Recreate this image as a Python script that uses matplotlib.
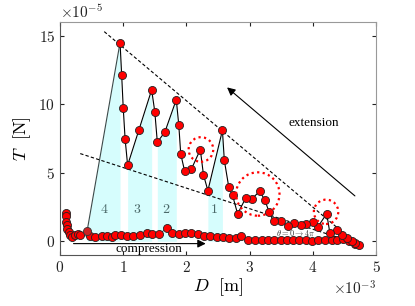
import numpy as np
import matplotlib
matplotlib.use("Agg")
import matplotlib.pyplot as plt
from matplotlib.patches import Ellipse

plt.rcParams['font.family'] = 'serif'
plt.rcParams['font.serif'] = ['cmr10', 'DejaVu Serif']
plt.rcParams['mathtext.fontset'] = 'cm'
plt.rcParams['axes.formatter.use_mathtext'] = True
plt.rcParams['axes.unicode_minus'] = False

# extension branch (ordered from the right end back to the big peak), units: m and N
ext_D = np.array([4.73, 4.67, 4.62, 4.54, 4.46, 4.38, 4.27, 4.22, 4.08, 4.01,
                  3.90, 3.82, 3.71, 3.60, 3.49, 3.38, 3.31, 3.24, 3.16, 3.04,
                  2.94, 2.81, 2.73, 2.67, 2.60, 2.57, 2.34, 2.27, 2.22, 2.08,
                  1.97, 1.91, 1.88, 1.84, 1.66, 1.54, 1.50, 1.45, 1.25, 1.07,
                  1.03, 1.00, 0.976, 0.95, 0.43]) * 1e-3
ext_T = np.array([-0.29, -0.12, 0.0, 0.25, 0.49, 0.85, 0.61, 2.02, 1.05, 1.39,
                  1.29, 1.20, 1.34, 1.15, 1.46, 1.46, 2.12, 3.02, 3.65, 3.12,
                  3.17, 2.00, 3.36, 3.97, 5.91, 8.10, 3.70, 4.85, 6.69, 5.28,
                  5.16, 6.38, 8.45, 10.34, 7.98, 7.23, 9.45, 11.05, 8.15, 5.55,
                  7.47, 9.76, 12.1, 14.5, 0.78]) * 1e-5

# compression branch
comp_D = np.array([0.09, 0.10, 0.095, 0.106, 0.116, 0.142, 0.158, 0.185, 0.237, 0.29,
                   0.316, 0.475, 0.55, 0.66, 0.74, 0.83, 0.87, 0.96, 1.06, 1.16,
                   1.27, 1.37, 1.46, 1.57, 1.69, 1.78, 1.88, 1.98, 2.08, 2.18,
                   2.28, 2.38, 2.48, 2.58, 2.68, 2.78, 2.87, 2.98, 3.09, 3.19,
                   3.29, 3.39, 3.49, 3.59, 3.68, 3.78, 3.89, 3.99, 4.09, 4.19,
                   4.30, 4.39, 4.48, 4.57, 4.67]) * 1e-3
comp_T = np.array([2.1, 1.85, 1.4, 1.22, 0.93, 0.69, 0.49, 0.34, 0.44, 0.54,
                   0.44, 0.36, 0.34, 0.36, 0.36, 0.34, 0.44, 0.47, 0.36, 0.36,
                   0.47, 0.61, 0.54, 0.51, 0.98, 0.61, 0.56, 0.61, 0.61, 0.54,
                   0.42, 0.36, 0.29, 0.29, 0.25, 0.25, 0.36, 0.12, 0.10, 0.10,
                   0.07, 0.07, 0.07, 0.07, 0.07, 0.07, 0.07, 0.03, 0.07, 0.07,
                   0.07, 0.07, 0.20, 0.0, -0.19]) * 1e-5

# rising parts of the loops that get shaded (index pairs into ext arrays)
rises = [(25, 26), (33, 35), (37, 39), (43, 44)]
rise_labels = ['1', '2', '3', '4']
rise_label_D = [2.44e-3, 1.67e-3, 1.22e-3, 0.70e-3]
label_T = 2.3e-5

# envelope lines
upper_env_D = [0.70e-3, 4.72e-3]
upper_env_T = [15.3e-5, -0.3e-5]
lower_env_D = [0.32e-3, 4.62e-3]
lower_env_T = [6.4e-5, -0.05e-5]

# dotted circles: centre D, centre T, radius in pixels
circ_D = [2.23e-3, 3.13e-3, 4.21e-3]
circ_T = [6.7e-5, 3.45e-5, 2.15e-5]
circ_r = [12.3, 21.7, 12.2]

fig = plt.figure(figsize=(4.15, 3.06), dpi=100)
ax = fig.add_axes([0.1446, 0.1667, 0.7614, 0.7613])
ax.set_xlim(0, 5e-3)
ax.set_ylim(-1e-5, 16e-5)

for (i0, i1), lab, ld in zip(rises, rise_labels, rise_label_D):
    seg_D = ext_D[i0:i1 + 1]
    seg_T = ext_T[i0:i1 + 1]
    order = np.argsort(seg_D)
    ax.fill_between(seg_D[order], 0, seg_T[order], color='#d6fdfd', lw=0, zorder=1)
    ax.text(ld, label_T, lab, color='#4a6868', fontsize=10, ha='center', va='center', zorder=2)

ax.plot(upper_env_D, upper_env_T, 'k--', lw=0.8, dashes=(3, 2), zorder=2)
ax.plot(lower_env_D, lower_env_T, 'k--', lw=0.8, dashes=(3, 2), zorder=2)

ax.plot(comp_D, comp_T, '-', color='#333333', lw=0.6, marker='o', ms=5.8,
        mfc='red', mec='#222222', mew=0.6, zorder=3)
ax.plot(ext_D[:-1], ext_T[:-1], '-', color='black', lw=0.8, marker='o', ms=5.8,
        mfc='red', mec='#222222', mew=0.6, zorder=4)
ax.plot(ext_D[-2:], ext_T[-2:], '-', color='#3a4a4a', lw=0.8, zorder=3)
ax.plot(ext_D[-1:], ext_T[-1:], 'o', ms=5.8, mfc='#cc2222', mec='#333333', mew=0.6, zorder=4)

# circles that look round on screen
px_per_D = 0.7614 * 415 / 5e-3
px_per_T = 0.7613 * 306 / 17e-5
for cd, ct, r in zip(circ_D, circ_T, circ_r):
    ax.add_patch(Ellipse((cd, ct), 2 * r / px_per_D, 2 * r / px_per_T, fill=False,
                         ec='red', ls=(0, (1, 1.5)), lw=1.6, zorder=5))

ax.annotate('', xy=(2.61e-3, 11.36e-5), xytext=(4.70e-3, 3.18e-5),
            arrowprops=dict(arrowstyle='-|>', color='black', lw=0.8, mutation_scale=12))
ax.text(4.01e-3, 8.66e-5, 'extension', family='Liberation Serif', fontsize=9.5,
        ha='center', va='center')
ax.annotate('', xy=(2.35e-3, -0.17e-5), xytext=(0.17e-3, -0.17e-5),
            arrowprops=dict(arrowstyle='-|>', color='black', lw=0.8, mutation_scale=12))
ax.text(1.40e-3, -0.55e-5, 'compression', family='Liberation Serif', fontsize=9.5,
        ha='center', va='center')
ax.text(3.73e-3, 0.62e-5, r'$\theta=0\rightarrow4\pi$', fontsize=6, color='#333333',
        ha='center', va='center', zorder=6)

ax.set_yticks([0, 5e-5, 10e-5, 15e-5])
ax.set_xticks([0, 1e-3, 2e-3, 3e-3, 4e-3, 5e-3])
ax.ticklabel_format(axis='x', style='sci', scilimits=(-3, -3))
ax.ticklabel_format(axis='y', style='sci', scilimits=(-5, -5))
ax.tick_params(direction='in', top=True, right=True, length=3, labelsize=11, colors='#222222')
for s in ['left', 'bottom']:
    ax.spines[s].set_color('#555555')
for s in ['top', 'right']:
    ax.spines[s].set_color('#999999')
ax.xaxis.get_offset_text().set_fontsize(11)
ax.yaxis.get_offset_text().set_fontsize(11)
ax.set_xlabel(r'$D\ \ \mathrm{[m]}$', fontsize=13, labelpad=1)
ax.set_ylabel(r'$T\ \ \mathrm{[N]}$', fontsize=13, labelpad=4)

fig.savefig('out.png', dpi=100)
